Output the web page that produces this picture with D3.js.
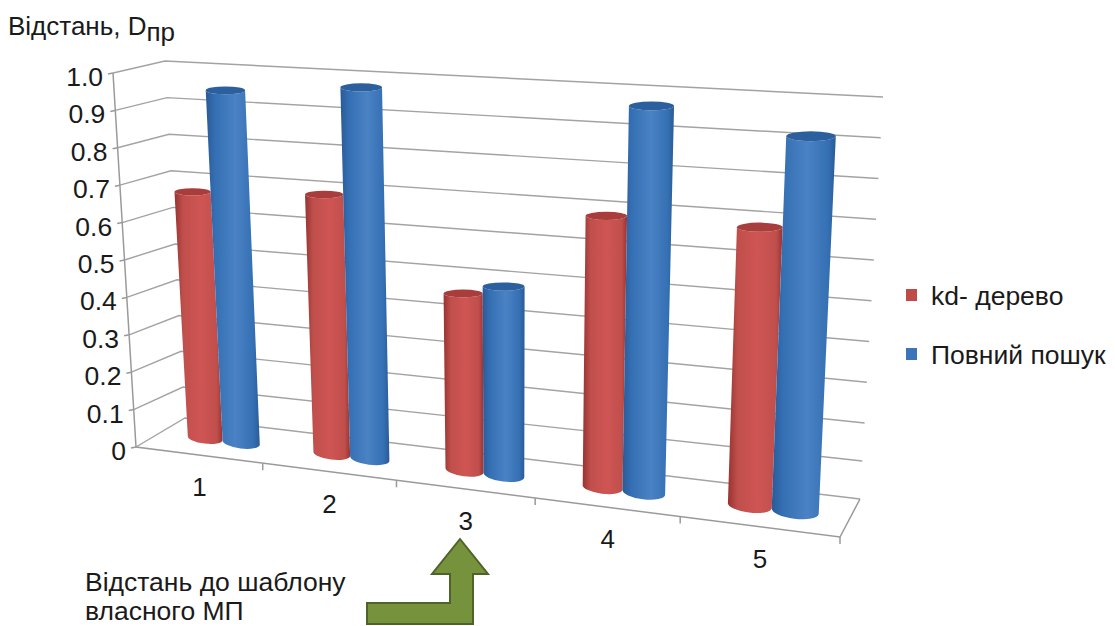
<!DOCTYPE html>
<html>
<head>
<meta charset="utf-8">
<script src="https://cdn.jsdelivr.net/npm/d3@7"></script>
<style>
  body { margin: 0; background: #fff; }
  text { font-family: "Liberation Sans", Arial, sans-serif; fill: #1a1a1a; }
</style>
</head>
<body>
<script>
const categories = ["1", "2", "3", "4", "5"];
const kdTree = [0.672, 0.691, 0.463, 0.69, 0.69];
const fullSearch = [0.95, 0.978, 0.49, 0.972, 0.92];
const ticks = [0, 0.1, 0.2, 0.3, 0.4, 0.5, 0.6, 0.7, 0.8, 0.9, 1];
const tickLabels = ["0", "0.1", "0.2", "0.3", "0.4", "0.5", "0.6", "0.7", "0.8", "0.9", "1.0"];
const seriesNames = ["kd- дерево", "Повний пошук"];

const width = 1115, height = 626;

// corners of the 3d box, each one a scale from value to screen position
const frontLeft = {
  x: d3.scaleLinear([0, 1], [136, 113]),
  y: d3.scaleLinear([0, 1], [447, 73])
};
const backLeft = {
  x: d3.scaleLinear([0, 1], [185, 165]),
  y: d3.scaleLinear([0, 0.1, 0.5, 1], [418, 387, 244, 61])
};
const backRight = {
  x: d3.scaleLinear([0, 1], [860, 883]),
  y: d3.scaleLinear([0, 0.1, 0.2, 1], [499, 461, 423, 97])
};
const frontRight = {
  x: d3.scaleLinear([0, 1], [840, 858]),
  y: d3.scaleLinear([0, 1], [537, 116])
};

// category position along the floor, wider to the right
const along = d3.scaleLinear([0, 1, 2, 3, 4, 5], [0, 0.18, 0.37, 0.567, 0.773, 1]);

function project(c, d, v) {
  const u = along(c);
  const fx = frontLeft.x(v) + (frontRight.x(v) - frontLeft.x(v)) * u;
  const fy = frontLeft.y(v) + (frontRight.y(v) - frontLeft.y(v)) * u;
  const bx = backLeft.x(v) + (backRight.x(v) - backLeft.x(v)) * u;
  const by = backLeft.y(v) + (backRight.y(v) - backLeft.y(v)) * u;
  return [fx + (bx - fx) * d, fy + (by - fy) * d];
}

const svg = d3.select("body").append("svg")
    .attr("width", width)
    .attr("height", height)
    .style("display", "block");

const defs = svg.append("defs");
[["red", "#983331", "#cf5553", "#c04f4c"], ["blue", "#2a5a96", "#4a82c4", "#3570b4"]].forEach(([id, edge, mid, end]) => {
  const g = defs.append("linearGradient").attr("id", id);
  g.append("stop").attr("offset", "0%").attr("stop-color", edge);
  g.append("stop").attr("offset", "18%").attr("stop-color", end);
  g.append("stop").attr("offset", "55%").attr("stop-color", mid);
  g.append("stop").attr("offset", "88%").attr("stop-color", end);
  g.append("stop").attr("offset", "100%").attr("stop-color", edge);
});

// gridlines on the left and back walls
const line = d3.line();
svg.append("g")
    .attr("fill", "none")
    .attr("stroke", "#a3a3a3")
    .attr("stroke-width", 1.4)
  .selectAll("path")
  .data(ticks)
  .join("path")
    .attr("d", v => line([
      [frontLeft.x(v), frontLeft.y(v)],
      [backLeft.x(v), backLeft.y(v)],
      [backRight.x(v), backRight.y(v)]
    ]));

// axis lines and tick marks
const axis = svg.append("g")
    .attr("fill", "none")
    .attr("stroke", "#9a9a9a")
    .attr("stroke-width", 1.5);
axis.append("path").attr("d", line([
  [frontLeft.x(1), frontLeft.y(1)],
  [frontLeft.x(0), frontLeft.y(0)],
  [frontRight.x(0), frontRight.y(0)],
  [backRight.x(0), backRight.y(0)]
]));
axis.selectAll(".ty")
  .data(ticks)
  .join("path")
    .attr("class", "ty")
    .attr("d", v => line([
      [frontLeft.x(v) - 5, frontLeft.y(v) + 1],
      [frontLeft.x(v), frontLeft.y(v)]
    ]));
axis.selectAll(".tx")
  .data(d3.range(1, 6))
  .join("path")
    .attr("class", "tx")
    .attr("d", c => {
      const p = project(c, 0, 0);
      return line([p, [p[0], p[1] + 7]]);
    });

svg.append("g")
    .attr("text-anchor", "end")
    .attr("font-size", 26.5)
  .selectAll("text")
  .data(ticks)
  .join("text")
    .attr("x", v => frontLeft.x(v) - 10)
    .attr("y", v => frontLeft.y(v) + 13)
    .text((v, i) => tickLabels[i]);

svg.append("g")
    .attr("text-anchor", "middle")
    .attr("font-size", 26)
  .selectAll("text")
  .data(categories)
  .join("text")
    .attr("x", (d, i) => project(i + 0.5, 0, 0)[0])
    .attr("y", (d, i) => project(i + 0.5, 0, 0)[1] + 41)
    .text(d => d);

// cylinders, flat caps like the reference
const depth = 0.5;

function cylinder(i, side, radius, value) {
  const c = i + 0.5 + side * radius;
  const tl = project(c - radius, depth, value), tr = project(c + radius, depth, value);
  const bl = project(c - radius, depth, 0), br = project(c + radius, depth, 0);
  tl[1] = tr[1] = (tl[1] + tr[1]) / 2;
  const edge = (a, b) => ({
    rx: Math.hypot(b[0] - a[0], b[1] - a[1]) / 2,
    angle: Math.atan2(b[1] - a[1], b[0] - a[0]) * 180 / Math.PI
  });
  const top = edge(tl, tr), bottom = edge(bl, br);
  const topRy = top.rx * 0.2, bottomRy = bottom.rx * 0.32;
  return {
    body: `M${tl}L${bl}A${bottom.rx},${bottomRy} ${bottom.angle} 0 0 ${br}L${tr}A${top.rx},${topRy} ${top.angle} 0 1 ${tl}Z`,
    cap: `M${tl}A${top.rx},${topRy} ${top.angle} 0 0 ${tr}A${top.rx},${topRy} ${top.angle} 0 0 ${tl}Z`
  };
}

const bars = [
  {key: "red", side: -1, radius: 0.14, values: kdTree, cap: "#a83d3b"},
  {key: "blue", side: 1, radius: 0.15, values: fullSearch, cap: "#2b5f9e"}
];

bars.forEach(s => {
  const g = svg.append("g").selectAll("g")
    .data(s.values)
    .join("g");
  g.append("path")
      .attr("d", (v, i) => cylinder(i, s.side, s.radius, v).body)
      .attr("fill", `url(#${s.key})`);
  g.append("path")
      .attr("d", (v, i) => cylinder(i, s.side, s.radius, v).cap)
      .attr("fill", s.cap);
});

// legend
const legend = svg.append("g").selectAll("g")
  .data(seriesNames)
  .join("g")
    .attr("transform", (d, i) => `translate(906,${289 + i * 59})`);
legend.append("rect")
    .attr("width", 11)
    .attr("height", 12)
    .attr("fill", (d, i) => i ? "#3b74b8" : "#bf4b48");
legend.append("text")
    .attr("x", 25)
    .attr("y", 16)
    .attr("font-size", 26.5)
    .text(d => d);

// axis title
const title = svg.append("text")
    .attr("x", 8)
    .attr("y", 35)
    .attr("font-size", 26)
    .text("Відстань, D");
title.append("tspan")
    .attr("dy", 6)
    .text("пр");

// annotation with arrow
svg.append("path")
    .attr("d", "M460,539L488,574H473V624H367V603H450V574H432Z")
    .attr("fill", "#76923c")
    .attr("stroke", "#4f6228")
    .attr("stroke-width", 2);
svg.append("text")
    .attr("x", 85)
    .attr("y", 591)
    .attr("font-size", 26.5)
    .text("Відстань до шаблону");
svg.append("text")
    .attr("x", 85)
    .attr("y", 620)
    .attr("font-size", 26.5)
    .text("власного МП");
</script>
</body>
</html>
